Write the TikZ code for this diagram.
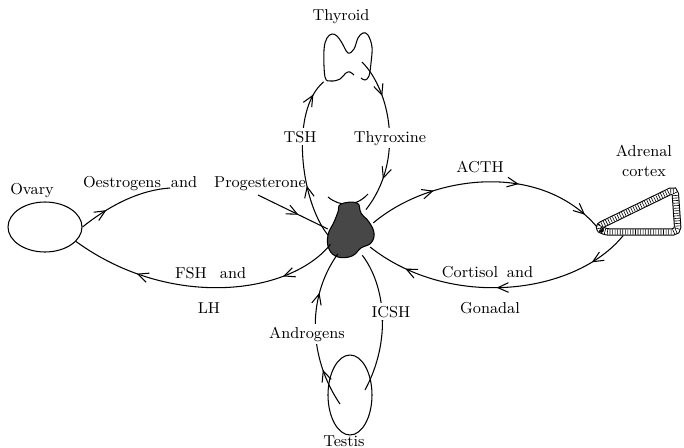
\documentclass[tikz,border=0pt]{standalone}
\usepackage{tikz}
\usetikzlibrary{arrows.meta, shapes.geometric, decorations.markings, calc}

\tikzset{
  gland/.style={ellipse, draw, semithick, inner sep=0pt},
  spot/.style={inner sep=0pt},
  word/.style={anchor=base},
  hormone/.style={anchor=base, fill=white, inner sep=1.5pt},
  flow/.style={semithick},
  tip at/.style={postaction={decorate, decoration={markings,
      mark=at position #1 with {\arrow{Straight Barb[length=6pt,width=5.5pt]}}}}},
}

\begin{document}
\begin{tikzpicture}[font=\small, x={(0.02cm,0)}, y={(0,-0.02cm)}]
\useasboundingbox (0,0) rectangle (684,447);

% glands
\node[gland, minimum width=1.48cm, minimum height=1cm] (ov) at (45,227) {};
\node[gland, minimum width=0.88cm, minimum height=1.6cm] (te) at (350,395) {};
\node[spot, ellipse, minimum width=0.92cm, minimum height=1.1cm] (pit) at (351,231) {};
\node[spot, minimum width=0.96cm, minimum height=0.98cm] (thy) at (348,57) {};
\coordinate (adr-tip) at (597,227);
\coordinate (adr-top) at (675,189);
\coordinate (adr-br)  at (678,232);
\coordinate (adr-bl)  at (604,232);

% pituitary
\draw[semithick] (328,197) .. controls (340,207) and (356,207) .. (368,194);
\filldraw[fill=black!72, semithick] plot[smooth cycle, tension=0.7] coordinates
  {(341,204) (357,203) (361,213) (369,222) (374,233) (371,243) (361,248)
   (352,256) (338,257) (329,249) (328,235) (334,222) (338,212)};

% thyroid
\draw[semithick] plot[smooth, tension=0.6] coordinates
  {(354,75) (350,72) (346,73) (340,79) (331,81) (325,77) (324,50) (327,38)
   (332,34) (337,36) (342,43) (348,53) (354,49) (358,38) (363,33) (368,35)
   (372,47) (371,63) (369,76) (365,80) (361,78)};

% adrenal cortex, hatched band
\draw[line width=3pt, line join=round, dash pattern=on 0.35pt off 1.1pt, rounded corners=3pt,
      preaction={draw, solid, line width=4.2pt, black},
      preaction={draw, solid, line width=3pt, white}]
  (adr-tip) -- (adr-top) -- (adr-br) -- (adr-bl) -- cycle;

% thyroid loop
\draw[flow, tip at=0.33, tip at=0.9] (pit.190) .. controls (300,200) and (290,110) .. (thy.south west);
\draw[flow, tip at=0.25, tip at=0.78] ([xshift=0.28cm,yshift=-0.1cm]thy.center)
  .. controls (390,90) and (405,160) .. (pit.55);
\node[hormone] at (300,142) {TSH};
\node[hormone] at (390,142) {Thyroxine};

% ovary loop
\coordinate (oe) at (170,188);
\coordinate (pg) at (258,195);
\draw[flow, tip at=0.3] (ov.east) .. controls (110,205) and (140,190) .. (oe);
\draw[flow, tip at=0.58] (pg) -- (pit.175);
\draw[flow, tip at=0.21, tip at=0.75] (pit.213) .. controls (290,295) and (170,310) .. (ov.-25);

% adrenal loop
\draw[flow, tip at=0.28, tip at=0.63, tip at=0.93] (pit.20) .. controls (430,175) and (540,160) .. (adr-tip);
\draw[flow, tip at=0.15, tip at=0.51, tip at=0.85] ([yshift=-0.07cm]$(adr-bl)!0.26!(adr-br)$)
  .. controls (575,295) and (450,310) .. (pit.320);

% testis loop
\draw[flow, tip at=0.24, tip at=0.73] ([xshift=-0.2cm,yshift=-0.18cm]te.center)
  .. controls (310,360) and (305,300) .. (pit.240);
\draw[flow, tip at=0.5] (pit.295) .. controls (385,285) and (392,340)
  .. ([xshift=0.3cm,yshift=0.1cm]te.center);
\node[hormone] at (307,338) {Androgens};
\node[hormone] at (391,317) {ICSH};

% labels
\node[word] at (341,20) {Thyroid};
\node[word] at (32,194) {Ovary};
\node[word] at (122,187) {Oestrogens};
\node[word] at (184,187) {and};
\node[word] at (260,187) {Progesterone};
\node[word] at (191,278) {FSH};
\node[word] at (233,278) {and};
\node[word] at (209,313) {LH};
\node[word] at (480,172) {ACTH};
\node[word] at (470,277) {Cortisol};
\node[word] at (520,277) {and};
\node[word] at (490,313) {Gonadal};
\node[align=center] at (644,161) {Adrenal\\cortex};
\node[word] at (344,446) {Testis};
\end{tikzpicture}
\end{document}
